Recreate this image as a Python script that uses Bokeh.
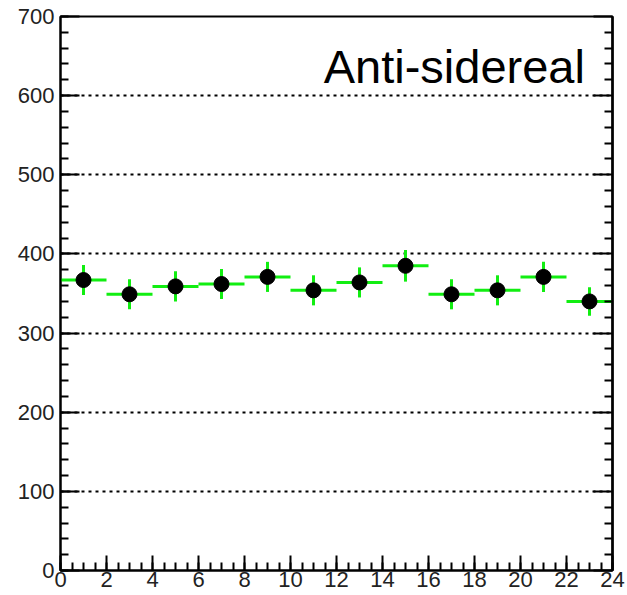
from bokeh.plotting import figure
from bokeh.models import (ColumnDataSource, LinearAxis, FixedTicker, Range1d,
                          Label, SingleIntervalTicker)
from bokeh.embed import file_html
from bokeh.resources import INLINE

# ---- data ----
hours = [1, 3, 5, 7, 9, 11, 13, 15, 17, 19, 21, 23]
bin_lo = [0, 2, 4, 6, 8, 10, 12, 14, 16, 18, 20, 22]
bin_hi = [2, 4, 6, 8, 10, 12, 14, 16, 18, 20, 22, 24]
counts = [367, 349, 359, 362, 371, 354, 364, 385, 349, 354, 371, 340]
errors = [19, 19, 19, 19, 19, 19, 19, 20, 19, 19, 19, 18]
y_major = [0, 100, 200, 300, 400, 500, 600, 700]
y_minor = [v for v in range(0, 701, 20) if v % 100 != 0]
grid_levels = [100, 200, 300, 400, 500, 600]
title_text = "Anti-sidereal"

src = ColumnDataSource(data=dict(
    x=hours, lo=bin_lo, hi=bin_hi, y=counts,
    ylo=[c - e for c, e in zip(counts, errors)],
    yhi=[c + e for c, e in zip(counts, errors)],
))

p = figure(width=627, height=595, x_range=Range1d(0, 24), y_range=Range1d(0, 700),
           output_backend="svg", toolbar_location=None,
           min_border_left=60, min_border_right=15, min_border_top=16,
           min_border_bottom=25, background_fill_color="white",
           border_fill_color="white")

p.outline_line_color = "black"
p.outline_line_width = 2
p.outline_line_alpha = 1

font = "Liberation Sans"

# x axis
xa = p.xaxis[0]
xa.ticker = SingleIntervalTicker(interval=2, num_minor_ticks=4)
xa.major_tick_in = 15
xa.major_tick_out = 0
xa.minor_tick_in = 8
xa.minor_tick_out = 0
xa.axis_line_width = 2
xa.major_tick_line_width = 2
xa.minor_tick_line_width = 2
xa.major_label_text_font = font
xa.major_label_text_font_size = "22px"
xa.major_label_text_color = "#222222"
xa.major_label_standoff = 1

# left y axis
ya = p.yaxis[0]
ya.ticker = SingleIntervalTicker(interval=100, num_minor_ticks=5)
ya.major_tick_in = 19
ya.major_tick_out = 0
ya.minor_tick_in = 8
ya.minor_tick_out = 0
ya.axis_line_width = 2
ya.major_tick_line_width = 2
ya.minor_tick_line_width = 2
ya.major_label_text_font = font
ya.major_label_text_font_size = "22px"
ya.major_label_text_color = "#222222"
ya.major_label_standoff = 6

# right y axes (ticks only, no labels): long ticks and short ticks
for ticks, length in [(y_major, 19), (y_minor, 8)]:
    ra = LinearAxis(ticker=FixedTicker(ticks=[], minor_ticks=ticks))
    ra.major_tick_in = 0
    ra.major_tick_out = 0
    ra.minor_tick_in = length
    ra.minor_tick_out = 0
    ra.axis_line_width = 2
    ra.minor_tick_line_width = 2
    ra.major_label_standoff = 0
    p.add_layout(ra, "right")

# grid
p.xgrid.visible = False
p.ygrid.ticker = FixedTicker(ticks=grid_levels)
p.ygrid.grid_line_color = "black"
p.ygrid.grid_line_dash = "3 4"
p.ygrid.grid_line_width = 2

# error bars and points
green = "#11ee11"
p.segment(x0="lo", y0="y", x1="hi", y1="y", source=src, line_color=green, line_width=3)
p.segment(x0="x", y0="ylo", x1="x", y1="yhi", source=src, line_color=green, line_width=3)
p.scatter(x="x", y="y", source=src, size=15, fill_color="black", line_color="black")

lbl = Label(x=22.8, y=637, text=title_text, text_align="right",
            text_baseline="alphabetic", text_font=font,
            text_font_size="47px", text_color="black")
p.add_layout(lbl)

open("out.html", "w").write(file_html(p, INLINE))
